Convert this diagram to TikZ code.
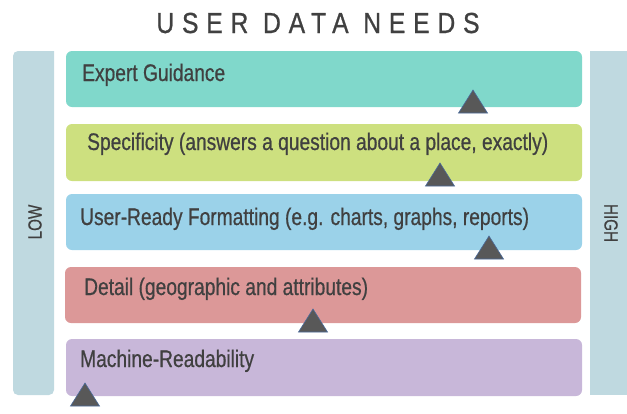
\documentclass[tikz,border=0pt]{standalone}
\usepackage{fontspec}
\setmainfont[FakeStretch=0.8,FakeBold=0.6]{Liberation Sans}
\newfontfamily\titlefont[FakeStretch=0.85,FakeBold=0.8,LetterSpace=27]{Liberation Sans}
\definecolor{barc}{HTML}{BFD9E0}
\definecolor{c1}{HTML}{80D8CB}
\definecolor{c2}{HTML}{CDE07F}
\definecolor{c3}{HTML}{9BD2E9}
\definecolor{c4}{HTML}{DC9898}
\definecolor{c5}{HTML}{C8B7D9}
\definecolor{txt}{HTML}{404040}
\definecolor{trif}{HTML}{585858}
\definecolor{tried}{HTML}{4A6A9A}
\tikzset{
  band/.style={draw=none, rounded corners=6pt},
  lab/.style={anchor=base west, inner sep=0pt, text=txt, font=\fontsize{24}{24}\selectfont},
  side/.style={inner sep=0pt, text=txt, font=\fontsize{19}{19}\selectfont},
  tri/.style={fill=trif, draw=tried, line width=0.6pt}
}
\begin{document}
\begin{tikzpicture}[x=1pt,y=-1pt]
\useasboundingbox (0,0) rectangle (627,413);
% side bars
\fill[barc, rounded corners=5pt] (54,51) -- (13,51) -- (13,395) -- (54,395) [sharp corners] -- cycle;
\fill[barc] (590,51) rectangle (627,395);
\node[side, rotate=90] (low) at (35,222) {LOW};
\node[side, rotate=-90] (high) at (611,223) {HIGH};
% title
\node[anchor=base, inner sep=0pt, text=txt, font=\titlefont\fontsize{29}{29}\selectfont] (title) at (318,33) {USER DATA NEEDS};
% bands
\fill[band, c1] (66,51) rectangle (582,107);
\fill[band, c2] (66,124) rectangle (582,181);
\fill[band, c3] (66,194) rectangle (582,250);
\fill[band, c4] (65,267) rectangle (581,323);
\fill[band, c5] (66,339) rectangle (582,396);
% labels
\node[lab] (t1) at (82,81) {Expert Guidance};
\node[lab] (t2) at (87,150) {Specificity (answers a question about a place, exactly)};
\node[lab] (t3) at (80,225) {User-Ready Formatting (e.g. charts, graphs, reports)};
\node[lab] (t4) at (84,295) {Detail (geographic and attributes)};
\node[lab] (t5) at (80,367) {Machine-Readability};
% triangles
\foreach \cx/\by in {473/113, 440/186, 489/259, 313/332, 85/406}{
  \draw[tri] (\cx-14.5,\by) -- (\cx,\by-23) -- (\cx+14.5,\by) -- cycle;
}
\end{tikzpicture}
\end{document}
